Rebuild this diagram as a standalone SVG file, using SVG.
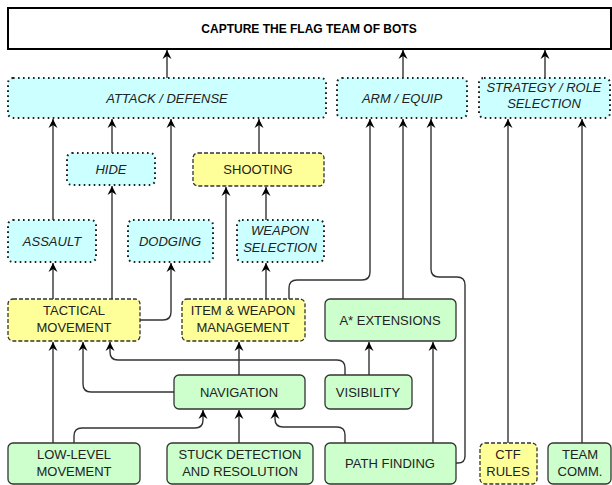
<svg xmlns="http://www.w3.org/2000/svg" width="612" height="485" viewBox="0 0 612 485">
<defs>
<marker id="ah" markerUnits="userSpaceOnUse" markerWidth="12" markerHeight="12" viewBox="-10 -6 12 12" refX="0" refY="0" orient="auto">
<path d="M0,0 L-9,-4.5 L-6,0 L-9,4.5 Z" fill="#000"/>
</marker>
<style>
.t{font-family:"Liberation Sans",Arial,sans-serif;font-size:13px;fill:#222;text-anchor:middle}
.i{font-style:italic}
.cy{fill:#ccffff;stroke:#222;stroke-width:2;stroke-dasharray:1.6 3.4}
.ye{fill:#ffff99;stroke:#333;stroke-width:1.3;stroke-dasharray:4 2}
.gr{fill:#ccffcc;stroke:#333;stroke-width:1.3}
.c path{fill:none;stroke:#333;stroke-width:1.4;marker-end:url(#ah)}
</style>
</defs>
<rect width="612" height="485" fill="#fff"/>
<g id="ctf-team">
<rect x="8" y="8" width="603" height="41" fill="#fff" stroke="#000" stroke-width="2"/>
<text x="309" y="33" class="t" style="font-weight:bold;font-size:12px;fill:#000">CAPTURE THE FLAG TEAM OF BOTS</text>
</g>
<g id="attack-defense"><rect x="8" y="78" width="318" height="40" rx="5" class="cy"/><text x="167" y="103" class="t i">ATTACK / DEFENSE</text></g>
<g id="arm-equip"><rect x="337" y="78" width="130" height="40" rx="5" class="cy"/><text x="402" y="103" class="t i">ARM / EQUIP</text></g>
<g id="strategy"><rect x="479" y="78" width="131" height="40" rx="5" class="cy"/><text x="544" y="92" class="t i">STRATEGY / ROLE</text><text x="544" y="108" class="t i">SELECTION</text></g>
<g id="hide"><rect x="67" y="153" width="88" height="32" rx="5" class="cy"/><text x="111" y="174" class="t i">HIDE</text></g>
<g id="shooting"><rect x="193" y="153" width="131" height="33" rx="5" class="ye"/><text x="258" y="174" class="t">SHOOTING</text></g>
<g id="assault"><rect x="8" y="220" width="88" height="42" rx="5" class="cy"/><text x="52" y="246" class="t i">ASSAULT</text></g>
<g id="dodging"><rect x="128" y="220" width="85" height="42" rx="5" class="cy"/><text x="170" y="246" class="t i">DODGING</text></g>
<g id="weapon-selection"><rect x="237" y="220" width="87" height="42" rx="5" class="cy"/><text x="280" y="235" class="t i">WEAPON</text><text x="280" y="252" class="t i">SELECTION</text></g>
<g id="tactical-movement"><rect x="8" y="299" width="132" height="42" rx="5" class="ye"/><text x="74" y="315" class="t">TACTICAL</text><text x="74" y="332" class="t">MOVEMENT</text></g>
<g id="item-weapon"><rect x="182" y="299" width="123" height="42" rx="5" class="ye"/><text x="243" y="315" class="t">ITEM &amp; WEAPON</text><text x="243" y="332" class="t">MANAGEMENT</text></g>
<g id="astar"><rect x="325" y="299" width="131" height="42" rx="5" class="gr"/><text x="390" y="325" class="t">A* EXTENSIONS</text></g>
<g id="navigation"><rect x="174" y="375" width="131" height="34" rx="5" class="gr"/><text x="239" y="397" class="t">NAVIGATION</text></g>
<g id="visibility"><rect x="325" y="375" width="87" height="34" rx="5" class="gr"/><text x="368" y="397" class="t">VISIBILITY</text></g>
<g id="low-level"><rect x="8" y="443" width="132" height="41" rx="5" class="gr"/><text x="74" y="459" class="t">LOW-LEVEL</text><text x="74" y="476" class="t">MOVEMENT</text></g>
<g id="stuck"><rect x="167" y="443" width="146" height="41" rx="5" class="gr"/><text x="240" y="459" class="t">STUCK DETECTION</text><text x="240" y="476" class="t">AND RESOLUTION</text></g>
<g id="path-finding"><rect x="325" y="443" width="131" height="41" rx="5" class="gr"/><text x="390" y="468" class="t">PATH FINDING</text></g>
<g id="ctf-rules"><rect x="480" y="443" width="57" height="41" rx="5" class="ye"/><text x="508" y="459" class="t">CTF</text><text x="508" y="476" class="t">RULES</text></g>
<g id="team-comm"><rect x="548" y="443" width="63" height="41" rx="5" class="gr"/><text x="580" y="459" class="t">TEAM</text><text x="580" y="476" class="t">COMM.</text></g>
<g id="connectors" class="c">
<path d="M167,78 V50"/>
<path d="M403,78 V50"/>
<path d="M545,78 V50"/>
<path d="M53,220 V119"/>
<path d="M112,153 V119"/>
<path d="M171,220 V119"/>
<path d="M259,153 V119"/>
<path d="M53,299 V263"/>
<path d="M112,299 V186"/>
<path d="M140,320 H163 Q171,320 171,312 V263"/>
<path d="M226,299 V187"/>
<path d="M266,220 V187"/>
<path d="M266,299 V263"/>
<path d="M289,299 V288 Q289,280 297,280 H362 Q370,280 370,272 V119"/>
<path d="M403,299 V119"/>
<path d="M456,463 H458 Q465,463 465,456 V285 Q465,277 457,277 H439 Q431,277 431,269 V119"/>
<path d="M508,443 V119"/>
<path d="M582,443 V119"/>
<path d="M369,375 V342"/>
<path d="M433,443 V342"/>
<path d="M345,375 V368 Q345,360 337,360 H118 Q110,360 110,352 V342"/>
<path d="M174,392 H91 Q83,392 83,384 V342"/>
<path d="M53,443 V342"/>
<path d="M239,375 V342"/>
<path d="M74,443 V436 Q74,428 82,428 H195 Q203,428 203,420 V410"/>
<path d="M239,443 V410"/>
<path d="M345,443 V435 Q345,427 337,427 H283 Q275,427 275,419 V410"/>
</g>
</svg>
